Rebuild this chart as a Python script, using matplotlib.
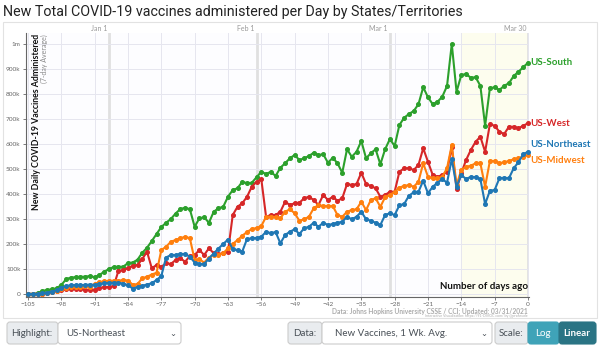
import matplotlib
matplotlib.use("Agg")
import matplotlib.pyplot as plt
from matplotlib.patches import Rectangle, FancyBboxPatch

plt.rcParams['font.family'] = ['Lato', 'DejaVu Sans']

# days ago, -105 .. 0
days = list(range(-105, 1))

# 7-day average of new vaccines administered, in thousands
us_south = [0, 0, 3, 12, 16, 19, 23, 36, 59, 66, 67, 69, 69, 72, 67, 76, 89, 100, 108, 109, 109, 124,
            126, 137, 165, 185, 212, 240, 268, 285, 300, 322, 340, 345, 339, 269,
            303, 307, 285, 329, 343, 349, 389, 416, 423, 449, 443, 445, 467, 489, 480, 489, 472,
            505, 523, 543, 556, 536, 543, 552, 565, 556, 559, 525, 545, 523, 485, 579, 549, 569, 612,
            543, 563, 579, 519, 579, 620, 592, 676,
            705, 720, 732, 759, 827, 787, 759, 769, 789, 832, 1000, 809, 876, 880, 865, 867, 833, 673,
            823, 827, 816, 833, 843, 872, 889, 907, 925]
us_west = [0, 0, 0, 2, 5, 8, 12, 15, 20, 22, 22, 20, 18, 16, 18, 25, 27, 28, 32, 93, 95, 104,
           113, 116, 140, 169, 103, 116, 109, 123, 120, 136, 143, 129, 152, 156,
           176, 156, 183, 163, 160, 163, 169, 316, 349, 363, 389, 429, 449, 459, 309, 316, 316,
           329, 369, 356, 363, 365, 383, 389, 376, 356, 396, 376, 389, 373, 383, 440, 436, 440, 485,
           440, 432, 423, 389, 396, 409, 409, 489,
           503, 503, 496, 516, 583, 529, 476, 469, 476, 489, 589, 419, 483, 536, 576, 609, 629, 569,
           679, 673, 649, 640, 669, 669, 663, 673, 683]
us_northeast = [0, 0, 0, 3, 6, 10, 15, 25, 32, 35, 36, 36, 36, 38, 36, 40, 43, 45, 45, 45, 42, 35,
                22, 28, 33, 38, 43, 56, 72, 146, 156, 156, 160, 160, 149, 126,
                120, 120, 142, 162, 182, 200, 218, 179, 176, 170, 220, 223, 224, 229, 249, 243, 248,
                203, 236, 249, 259, 240, 263, 269, 285, 269, 285, 276, 280, 285, 289, 309, 299, 309, 329,
                299, 293, 285, 276, 316, 323, 316, 355,
                360, 393, 407, 409, 453, 403, 429, 445, 460, 445, 540, 429, 476, 460, 469, 467, 460, 360,
                413, 416, 463, 465, 463, 503, 527, 559, 569]
us_midwest = [0, 0, 0, 2, 4, 8, 14, 20, 25, 28, 30, 30, 31, 30, 40, 48, 51, 53, 53, 53, 56, 54,
              37, 40, 63, 69, 78, 85, 176, 189, 209, 216, 223, 229, 223, 136,
              139, 126, 146, 158, 156, 163, 183, 200, 216, 233, 248, 260, 264, 272, 309, 309, 307,
              303, 329, 339, 323, 293, 299, 309, 343, 356, 352, 352, 352, 316, 309, 329, 336, 339, 369,
              336, 376, 383, 349, 387, 396, 409, 426,
              432, 436, 429, 449, 523, 469, 463, 463, 469, 503, 596, 436, 496, 509, 513, 523, 523, 429,
              532, 532, 523, 527, 532, 539, 543, 549, 556]

series_names = ["US-South", "US-West", "US-Midwest", "US-Northeast"]
series_values = [us_south, us_west, us_midwest, us_northeast]
series_colors = ["#2ca02c", "#d62728", "#ff7f0e", "#1f77b4"]
label_offsets = [0, 0, -4, 5]   # nudge overlapping end labels (points)

y_ticks = [0, 100, 200, 300, 400, 500, 600, 700, 800, 900, 1000]
y_tick_labels = ["0", "100k", "200k", "300k", "400k", "500k", "600k", "700k", "800k", "900k", "1m"]
x_ticks = list(range(-105, 1, 7))
date_marks = [-88, -57, -29, 0]
date_labels = ["Jan 1", "Feb 1", "Mar 1", "Mar 30"]

fig = plt.figure(figsize=(6, 3.46), dpi=100)

# overlay in pixel coords for frame / controls
bg = fig.add_axes([0, 0, 1, 1])
bg.set_xlim(0, 600)
bg.set_ylim(346, 0)
bg.axis('off')
bg.add_patch(Rectangle((3, 22), 594, 296, facecolor='none', edgecolor='#e2e2e2', lw=0.8))
bg.text(3, 12, "New Total COVID-19 vaccines administered per Day by States/Territories",
        fontsize=10.3, family=['Roboto', 'DejaVu Sans'], va='center', ha='left', color='#222222')

ax = fig.add_axes([25.6 / 600, 1 - 296.5 / 346, 503.8 / 600, 263.75 / 346])
ax.set_xlim(-105.5, 0.3)
ax.set_ylim(-10, 1045)
ax.set_facecolor('#fdfdff')
for s in ['top', 'right']:
    ax.spines[s].set_visible(False)
for s in ['left', 'bottom']:
    ax.spines[s].set_color('#666666')
    ax.spines[s].set_linewidth(0.8)

ax.axvspan(-14, 0, color='#fdfdee', zorder=0)
ax.set_xticks(x_ticks)
ax.set_yticks(y_ticks)
ax.set_yticklabels(y_tick_labels)
ax.tick_params(axis='both', labelsize=4.6, colors='#666666', length=2.5, width=0.6, pad=1.2)
ax.grid(True, color='#e6e6ef', linewidth=0.7, zorder=0)

for d, lab in zip(date_marks, date_labels):
    ax.axvline(d, color='#e0e0e0', linewidth=2, zorder=1)
    ax.text(d - 0.4, 1.015, lab, transform=ax.get_xaxis_transform(), ha='right', va='center',
            fontsize=5, color='#999999')

for name, vals, col, off in zip(series_names, series_values, series_colors, label_offsets):
    ax.plot(days, vals, color=col, linewidth=1.5, marker='o', markersize=2.6, zorder=3, clip_on=False)
    ax.annotate(name, (days[-1], vals[-1]), xytext=(2, off), textcoords='offset points',
                color=col, fontsize=7, fontweight='bold', va='center', ha='left', annotation_clip=False)

ax.text(0.012, 0.995, "New Daily COVID-19 Vaccines Administered", transform=ax.transAxes,
        rotation=90, ha='left', va='top', fontsize=6.3, fontweight='bold', color='#111111')
ax.text(0.03, 0.995, "(7-day Average)", transform=ax.transAxes,
        rotation=90, ha='left', va='top', fontsize=5, color='#888888')
ax.text(0.997, 0.02, "Number of days ago", transform=ax.transAxes, ha='right', va='bottom',
        fontsize=7, fontweight='bold', color='#111111')

bg.text(528, 311.5, "Data: Johns Hopkins University CSSE / CCI; Updated: 03/31/2021", ha='right',
        va='center', fontsize=4.8, fontweight='bold', color='#aaaaaa')
bg.text(528, 316.5, "Interactive Visualization: https://91-DIVOC.com/ by @profwade", ha='right',
        va='center', fontsize=2.6, color='#aaaaaa')

# controls row
def box(x0, x1, fc, ec='#cccccc'):
    bg.add_patch(FancyBboxPatch((x0, 322), x1 - x0, 22, boxstyle='round,pad=0,rounding_size=3',
                                facecolor=fc, edgecolor=ec, lw=0.8))

box(7, 58, '#e9ecef')
box(58, 181, 'white')
bg.text(32, 333, "Highlight:", ha='center', va='center', fontsize=7, color='#495057')
bg.text(66, 333, "US-Northeast", ha='left', va='center', fontsize=7, color='#495057')
bg.text(173, 333, "\u2304", ha='center', va='center', fontsize=6, color='#495057')
box(288, 322, '#e9ecef')
box(322, 492, 'white')
bg.text(305, 333, "Data:", ha='center', va='center', fontsize=7, color='#495057')
bg.text(335, 333, "New Vaccines, 1 Wk. Avg.", ha='left', va='center', fontsize=7, color='#495057')
bg.text(484, 333, "\u2304", ha='center', va='center', fontsize=6, color='#495057')
box(495, 528, '#e9ecef')
bg.text(511, 333, "Scale:", ha='center', va='center', fontsize=7, color='#495057')
box(528, 559, '#3fa3b8', ec='#3fa3b8')
bg.text(543, 333, "Log", ha='center', va='center', fontsize=7, color='white')
box(559, 596, '#2a7484', ec='#2a7484')
bg.text(577, 333, "Linear", ha='center', va='center', fontsize=7, color='white', fontweight='bold')

fig.savefig("out.png", dpi=100)
